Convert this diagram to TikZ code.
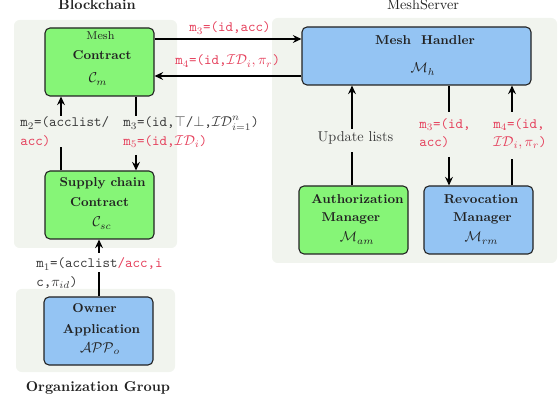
\documentclass[tikz,border=0pt]{standalone}
\usepackage{amsmath,amssymb}
\usetikzlibrary{arrows.meta}

\definecolor{panel}{HTML}{F1F4EE}
\definecolor{boxgreen}{HTML}{86F577}
\definecolor{boxblue}{HTML}{94C4F3}
\definecolor{msgred}{HTML}{E5405C}
\definecolor{msggray}{HTML}{3A3A3A}
\definecolor{edge}{HTML}{222222}

\begin{document}
\begin{tikzpicture}[x=0.7pt,y=-0.7pt,
  panelbg/.style={fill=panel, rounded corners=4pt},
  box/.style={draw=edge, line width=0.75pt, rounded corners=3.5pt, inner sep=0pt,
    minimum width=76.3pt, minimum height=47.6pt},
  greenbox/.style={box, fill=boxgreen},
  bluebox/.style={box, fill=boxblue},
  wide/.style={minimum width=160.3pt, minimum height=40.6pt},
  bt/.style={font=\small\bfseries, text=edge, inner sep=0pt, anchor=base},
  st/.style={font=\footnotesize, text=edge, inner sep=0pt, anchor=base},
  mt/.style={text=edge, inner sep=0pt, anchor=base},
  grouptitle/.style={text=edge, inner sep=0pt, anchor=base},
  msg/.style={font=\ttfamily, text=msggray, inner sep=0pt, anchor=base west},
  redmsg/.style={msg, text=msgred},
  flow/.style={line width=1.3pt, draw=black},
  arr/.style={flow, -{Stealth[length=6pt,width=5.5pt,inset=2pt]}}
]
\useasboundingbox (0,0) rectangle (560,403);

% group panels
\path[panelbg] (14,20) rectangle (177,248);
\path[panelbg] (272,18) rectangle (557,263);
\path[panelbg] (16,289) rectangle (175,372);

% group titles
\node[grouptitle, font=\bfseries] (tbc) at (97,10) {Blockchain};
\node[grouptitle] (tms) at (423,10) {MeshServer};
\node[grouptitle, font=\bfseries] (tog) at (98,391) {Organization Group};

% components
\node[greenbox] (mc) at (99.5,62) {};
\node[st] (mc1) at (100.5,39.5) {Mesh};
\node[bt] (mc2) at (102,60) {Contract};
\node[mt] (mc3) at (98,83) {$\mathcal{C}_m$};

\node[bluebox, wide] (mh) at (416.5,56) {};
\node[bt] (mh1) at (425,45) {Mesh~~Handler};
\node[mt] (mh2) at (423,73) {$\mathcal{M}_h$};

\node[greenbox] (sc) at (99.5,205) {};
\node[bt] (sc1) at (102.5,187) {Supply chain};
\node[bt] (sc2) at (99.5,207) {Contract};
\node[mt] (sc3) at (102,227) {$\mathcal{C}_{sc}$};

\node[greenbox] (am) at (353.5,220) {};
\node[bt] (am1) at (357.5,204) {Authorization};
\node[bt] (am2) at (351,222) {Manager};
\node[mt] (am3) at (357,242) {$\mathcal{M}_{am}$};

\node[bluebox] (rm) at (478.5,220) {};
\node[bt] (rm1) at (481,204) {Revocation};
\node[bt] (rm2) at (482.5,222) {Manager};
\node[mt] (rm3) at (481.5,242) {$\mathcal{M}_{rm}$};

\node[bluebox] (own) at (98.5,331) {};
\node[bt] (own1) at (94.5,313) {Owner};
\node[bt] (own2) at (101.5,333) {Application};
\node[mt] (own3) at (100,352) {$\mathcal{APP}_o$};

% rows and gap ends of the connectors
\coordinate (r1) at (0,39);
\coordinate (r2) at (0,76);
\coordinate (g2a) at (61,147);  \coordinate (g2b) at (61,116);
\coordinate (g3a) at (136,116); \coordinate (g3b) at (136,155);
\coordinate (g1a) at (99,272);  \coordinate (g1b) at (99,253);
\coordinate (gua) at (352,152); \coordinate (gub) at (352,129);
\coordinate (g5a) at (449,112); \coordinate (g5b) at (449,157);
\coordinate (g6a) at (512,159); \coordinate (g6b) at (512,112);

% connectors
\draw[arr] (mc.east |- r1) -- (mh.west |- r1);
\draw[arr] (mh.west |- r2) -- (mc.east |- r2);

\draw[flow] (sc.north -| g2a) -- (g2a);
\draw[arr] (g2b) -- (mc.south -| g2b);

\draw[flow] (mc.south -| g3a) -- (g3a);
\draw[arr] (g3b) -- (sc.north -| g3b);

\draw[flow] (own.north -| g1a) -- (g1a);
\draw[arr] (g1b) -- (sc.south -| g1b);

\draw[flow] (am.north -| gua) -- (gua);
\draw[arr] (gub) -- (mh.south -| gub);

\draw[flow] (mh.south -| g5a) -- (g5a);
\draw[arr] (g5b) -- (rm.north -| g5b);

\draw[flow] (rm.north -| g6a) -- (g6a);
\draw[arr] (g6b) -- (mh.south -| g6b);

% messages
\node[redmsg] (l3top) at (189,32) {m$_3$=(id,acc)};
\node[redmsg] (l4top) at (175,65) {m$_4$=(id,$\mathcal{ID}_i,\pi_r$)};

\node[msg] (l2a) at (20,127) {m$_2$=(acclist/};
\node[redmsg] (l2b) at (20,145.7) {acc)};

\node[msg] (l3a) at (123,127) {m$_3$=(id,$\top$/$\bot$,$\mathcal{ID}^n_{i=1}$)};
\node[redmsg] (l5) at (123,145.7) {m$_5$=(id,$\mathcal{ID}_i$)};

\node[msg] (l1a) at (36,268) {m$_1$=(acclist\textcolor{msgred}{/acc,i}};
\node[msg] (l1b) at (36,286.7) {c,$\pi_{id}$)};

\node[mt, text=msggray] (lup) at (355.5,141.7) {Update lists};

\node[redmsg] (l3ra) at (419,128.3) {m$_3$=(id,};
\node[redmsg] (l3rb) at (419,146.7) {acc)};

\node[redmsg] (l4ra) at (493,128.3) {m$_4$=(id,};
\node[redmsg] (l4rb) at (493,146.7) {$\mathcal{ID}_i,\pi_r$)};
\end{tikzpicture}
\end{document}
